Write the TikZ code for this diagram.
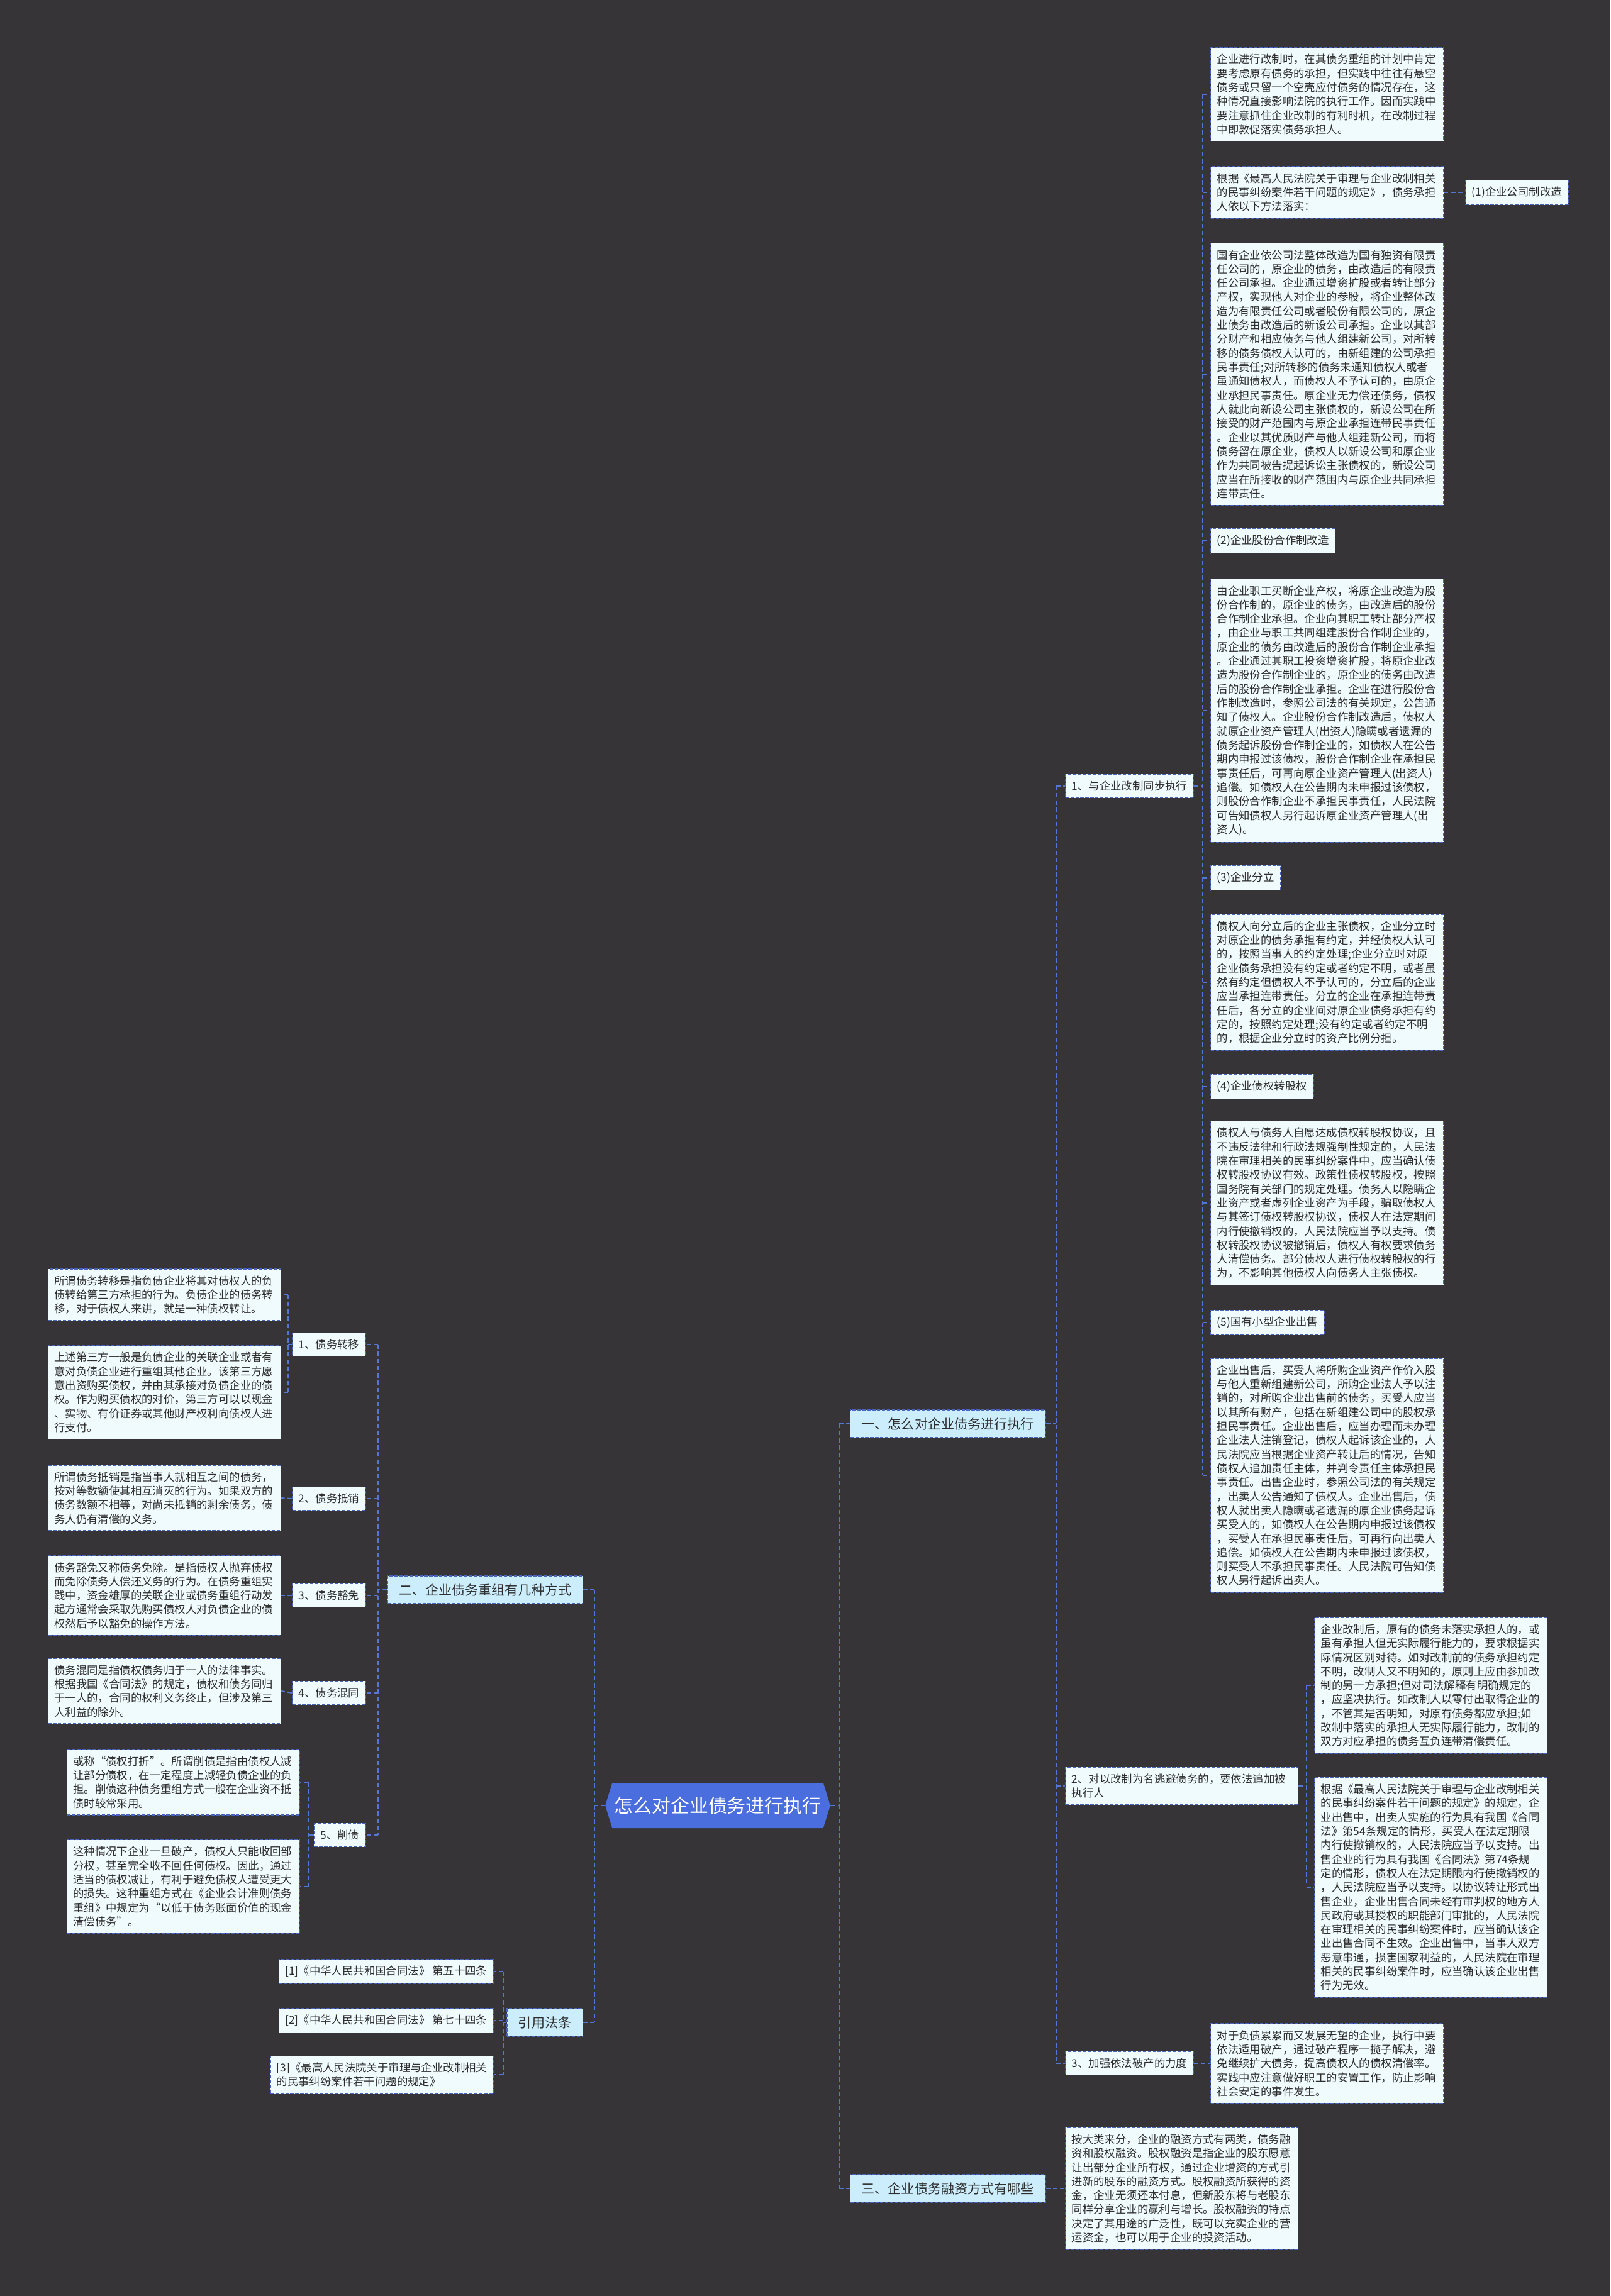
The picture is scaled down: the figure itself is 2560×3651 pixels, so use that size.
\documentclass[tikz,border=0pt]{standalone}
\usepackage{fontspec}
\setmainfont{Noto Sans CJK SC}
\usetikzlibrary{shapes.symbols}
\definecolor{bgdark}{RGB}{54,52,54}
\definecolor{boxfill}{RGB}{240,251,254}
\definecolor{boxline}{RGB}{72,100,190}
\definecolor{mainfill}{RGB}{204,238,252}
\definecolor{rootfill}{RGB}{74,110,221}
\definecolor{linkblue}{RGB}{84,118,214}
\definecolor{txtdark}{RGB}{45,45,45}
\newcommand\leafsize{\fontsize{9.9}{12.7}\selectfont}
\newcommand\branchsize{\fontsize{12}{14}\selectfont}
\newcommand\rootsize{\fontsize{17}{20}\selectfont}
\tikzset{
  leaf/.style={rectangle, draw=boxline, fill=boxfill, line width=0.8pt,
    dash pattern=on 3pt off 1.5pt, text=txtdark, font=\leafsize,
    align=left, inner xsep=0.2cm, inner ysep=6pt},
  para/.style={leaf, text width=7cm},
  branch/.style={leaf, fill=mainfill, font=\branchsize,
    inner xsep=0.36cm, inner ysep=7pt},
  root/.style={signal, signal to=west and east, signal pointer angle=146,
    fill=rootfill, text=white, font=\rootsize, inner xsep=2pt,
    minimum height=1.44cm},
  link/.style={draw=linkblue, line width=1.1pt, dash pattern=on 4pt off 2.5pt}
}

\begin{document}
\begin{tikzpicture}[x=0.02cm, y=-0.02cm]
  % Canvas
  \fill[bgdark] (0,0) rectangle (2560,3651);
  \useasboundingbox (0,0) rectangle (2560,3651);

  % Spines
  \coordinate (sR) at (1334,0);
  \coordinate (sL) at (945,0);
  \coordinate (s1) at (1679,0);
  \coordinate (sm1) at (1912,0);
  \coordinate (sm2) at (2077,0);
  \coordinate (s2) at (601,0);
  \coordinate (sc1) at (458,0);
  \coordinate (sc5) at (490,0);
  \coordinate (sct) at (800,0);

  % Root and main branches
  \node[root] (root) at (1141,2871) {怎么对企业债务进行执行};
  \node[branch, anchor=west] (one) at (1351,2264) {一、怎么对企业债务进行执行};
  \node[branch, anchor=west] (three) at (1351,3480) {三、企业债务融资方式有哪些};
  \node[branch, anchor=east] (two) at (927,2528) {二、企业债务重组有几种方式};
  \node[branch, anchor=east] (cite) at (927,3216) {引用法条};

  % Branch one
  \node[leaf, anchor=west] (m1) at (1693,1250) {1、与企业改制同步执行};
  \node[para, anchor=west] (m2) at (1693,2840) {2、对以改制为名逃避债务的，要依法追加被\\执行人};
  \node[leaf, anchor=west] (m3) at (1693,3281) {3、加强依法破产的力度};

  \node[para, anchor=west] (p1) at (1924,150) {企业进行改制时，在其债务重组的计划中肯定\\要考虑原有债务的承担，但实践中往往有悬空\\债务或只留一个空壳应付债务的情况存在，这\\种情况直接影响法院的执行工作。因而实践中\\要注意抓住企业改制的有利时机，在改制过程\\中即敦促落实债务承担人。};
  \node[para, anchor=west] (p2) at (1924,306) {根据《最高人民法院关于审理与企业改制相关\\的民事纠纷案件若干问题的规定》，债务承担\\人依以下方法落实：};
  \node[leaf, anchor=west] (t1) at (2329,306) {(1)企业公司制改造};
  \node[para, anchor=west] (p3) at (1924,595) {国有企业依公司法整体改造为国有独资有限责\\任公司的，原企业的债务，由改造后的有限责\\任公司承担。企业通过增资扩股或者转让部分\\产权，实现他人对企业的参股，将企业整体改\\造为有限责任公司或者股份有限公司的，原企\\业债务由改造后的新设公司承担。企业以其部\\分财产和相应债务与他人组建新公司，对所转\\移的债务债权人认可的，由新组建的公司承担\\民事责任;对所转移的债务未通知债权人或者\\虽通知债权人，而债权人不予认可的，由原企\\业承担民事责任。原企业无力偿还债务，债权\\人就此向新设公司主张债权的，新设公司在所\\接受的财产范围内与原企业承担连带民事责任\\。企业以其优质财产与他人组建新公司，而将\\债务留在原企业，债权人以新设公司和原企业\\作为共同被告提起诉讼主张债权的，新设公司\\应当在所接收的财产范围内与原企业共同承担\\连带责任。};
  \node[leaf, anchor=west] (t2) at (1924,860) {(2)企业股份合作制改造};
  \node[para, anchor=west] (p4) at (1924,1130) {由企业职工买断企业产权，将原企业改造为股\\份合作制的，原企业的债务，由改造后的股份\\合作制企业承担。企业向其职工转让部分产权\\，由企业与职工共同组建股份合作制企业的，\\原企业的债务由改造后的股份合作制企业承担\\。企业通过其职工投资增资扩股，将原企业改\\造为股份合作制企业的，原企业的债务由改造\\后的股份合作制企业承担。企业在进行股份合\\作制改造时，参照公司法的有关规定，公告通\\知了债权人。企业股份合作制改造后，债权人\\就原企业资产管理人(出资人)隐瞒或者遗漏的\\债务起诉股份合作制企业的，如债权人在公告\\期内申报过该债权，股份合作制企业在承担民\\事责任后，可再向原企业资产管理人(出资人)\\追偿。如债权人在公告期内未申报过该债权，\\则股份合作制企业不承担民事责任，人民法院\\可告知债权人另行起诉原企业资产管理人(出\\资人)。};
  \node[leaf, anchor=west] (t3) at (1924,1396) {(3)企业分立};
  \node[para, anchor=west] (p5) at (1924,1562) {债权人向分立后的企业主张债权，企业分立时\\对原企业的债务承担有约定，并经债权人认可\\的，按照当事人的约定处理;企业分立时对原\\企业债务承担没有约定或者约定不明，或者虽\\然有约定但债权人不予认可的，分立后的企业\\应当承担连带责任。分立的企业在承担连带责\\任后，各分立的企业间对原企业债务承担有约\\定的，按照约定处理;没有约定或者约定不明\\的，根据企业分立时的资产比例分担。};
  \node[leaf, anchor=west] (t4) at (1924,1728) {(4)企业债权转股权};
  \node[para, anchor=west] (p6) at (1924,1913) {债权人与债务人自愿达成债权转股权协议，且\\不违反法律和行政法规强制性规定的，人民法\\院在审理相关的民事纠纷案件中，应当确认债\\权转股权协议有效。政策性债权转股权，按照\\国务院有关部门的规定处理。债务人以隐瞒企\\业资产或者虚列企业资产为手段，骗取债权人\\与其签订债权转股权协议，债权人在法定期间\\内行使撤销权的，人民法院应当予以支持。债\\权转股权协议被撤销后，债权人有权要求债务\\人清偿债务。部分债权人进行债权转股权的行\\为，不影响其他债权人向债务人主张债权。};
  \node[leaf, anchor=west] (t5) at (1924,2103) {(5)国有小型企业出售};
  \node[para, anchor=west] (p7) at (1924,2346) {企业出售后，买受人将所购企业资产作价入股\\与他人重新组建新公司，所购企业法人予以注\\销的，对所购企业出售前的债务，买受人应当\\以其所有财产，包括在新组建公司中的股权承\\担民事责任。企业出售后，应当办理而未办理\\企业法人注销登记，债权人起诉该企业的，人\\民法院应当根据企业资产转让后的情况，告知\\债权人追加责任主体，并判令责任主体承担民\\事责任。出售企业时，参照公司法的有关规定\\，出卖人公告通知了债权人。企业出售后，债\\权人就出卖人隐瞒或者遗漏的原企业债务起诉\\买受人的，如债权人在公告期内申报过该债权\\，买受人在承担民事责任后，可再行向出卖人\\追偿。如债权人在公告期内未申报过该债权，\\则买受人不承担民事责任。人民法院可告知债\\权人另行起诉出卖人。};

  \node[para, anchor=west] (q1) at (2089,2680) {企业改制后，原有的债务未落实承担人的，或\\虽有承担人但无实际履行能力的，要求根据实\\际情况区别对待。如对改制前的债务承担约定\\不明，改制人又不明知的，原则上应由参加改\\制的另一方承担;但对司法解释有明确规定的\\，应坚决执行。如改制人以零付出取得企业的\\，不管其是否明知，对原有债务都应承担;如\\改制中落实的承担人无实际履行能力，改制的\\双方对应承担的债务互负连带清偿责任。};
  \node[para, anchor=west] (q2) at (2089,3001) {根据《最高人民法院关于审理与企业改制相关\\的民事纠纷案件若干问题的规定》的规定，企\\业出售中，出卖人实施的行为具有我国《合同\\法》第54条规定的情形，买受人在法定期限\\内行使撤销权的，人民法院应当予以支持。出\\售企业的行为具有我国《合同法》第74条规\\定的情形，债权人在法定期限内行使撤销权的\\，人民法院应当予以支持。以协议转让形式出\\售企业，企业出售合同未经有审判权的地方人\\民政府或其授权的职能部门审批的，人民法院\\在审理相关的民事纠纷案件时，应当确认该企\\业出售合同不生效。企业出售中，当事人双方\\恶意串通，损害国家利益的，人民法院在审理\\相关的民事纠纷案件时，应当确认该企业出售\\行为无效。};
  \node[para, anchor=west] (q3) at (1924,3281) {对于负债累累而又发展无望的企业，执行中要\\依法适用破产，通过破产程序一揽子解决，避\\免继续扩大债务，提高债权人的债权清偿率。\\实践中应注意做好职工的安置工作，防止影响\\社会安定的事件发生。};

  % Branch three
  \node[para, anchor=west] (f1) at (1693,3480) {按大类来分，企业的融资方式有两类，债务融\\资和股权融资。股权融资是指企业的股东愿意\\让出部分企业所有权，通过企业增资的方式引\\进新的股东的融资方式。股权融资所获得的资\\金，企业无须还本付息，但新股东将与老股东\\同样分享企业的赢利与增长。股权融资的特点\\决定了其用途的广泛性，既可以充实企业的营\\运资金，也可以用于企业的投资活动。};

  % Branch two
  \node[leaf, anchor=east] (c1) at (582,2138) {1、债务转移};
  \node[leaf, anchor=east] (c2) at (582,2383) {2、债务抵销};
  \node[leaf, anchor=east] (c3) at (582,2537) {3、债务豁免};
  \node[leaf, anchor=east] (c4) at (582,2692) {4、债务混同};
  \node[leaf, anchor=east] (c5) at (582,2918) {5、削债};

  \node[para, anchor=east] (d1a) at (447,2059) {所谓债务转移是指负债企业将其对债权人的负\\债转给第三方承担的行为。负债企业的债务转\\移，对于债权人来讲，就是一种债权转让。};
  \node[para, anchor=east] (d1b) at (447,2214) {上述第三方一般是负债企业的关联企业或者有\\意对负债企业进行重组其他企业。该第三方愿\\意出资购买债权，并由其承接对负债企业的债\\权。作为购买债权的对价，第三方可以以现金\\、实物、有价证券或其他财产权利向债权人进\\行支付。};
  \node[para, anchor=east] (d2) at (447,2382) {所谓债务抵销是指当事人就相互之间的债务，\\按对等数额使其相互消灭的行为。如果双方的\\债务数额不相等，对尚未抵销的剩余债务，债\\务人仍有清偿的义务。};
  \node[para, anchor=east] (d3) at (447,2537) {债务豁免又称债务免除。是指债权人抛弃债权\\而免除债务人偿还义务的行为。在债务重组实\\践中，资金雄厚的关联企业或债务重组行动发\\起方通常会采取先购买债权人对负债企业的债\\权然后予以豁免的操作方法。};
  \node[para, anchor=east] (d4) at (447,2689) {债务混同是指债权债务归于一人的法律事实。\\根据我国《合同法》的规定，债权和债务同归\\于一人的，合同的权利义务终止，但涉及第三\\人利益的除外。};
  \node[para, anchor=east] (d5a) at (477,2834) {或称“债权打折”。所谓削债是指由债权人减\\让部分债权，在一定程度上减轻负债企业的负\\担。削债这种债务重组方式一般在企业资不抵\\债时较常采用。};
  \node[para, anchor=east] (d5b) at (477,3000) {这种情况下企业一旦破产，债权人只能收回部\\分权，甚至完全收不回任何债权。因此，通过\\适当的债权减让，有利于避免债权人遭受更大\\的损失。这种重组方式在《企业会计准则债务\\重组》中规定为“以低于债务账面价值的现金\\清偿债务”。};

  % Cited laws
  \node[leaf, anchor=east] (r1) at (785,3135) {[1]《中华人民共和国合同法》 第五十四条};
  \node[leaf, anchor=east] (r2) at (785,3213) {[2]《中华人民共和国合同法》 第七十四条};
  \node[leaf, anchor=east] (r3) at (785,3299) {[3]《最高人民法院关于审理与企业改制相关\\的民事纠纷案件若干问题的规定》};

  % Connectors, right side
  \draw[link] (root.east) -- (root.east -| sR);
  \draw[link] (sR |- one.west) -- (sR |- three.west);
  \foreach \n in {one,three} \draw[link] (sR |- \n.west) -- (\n.west);

  \draw[link] (one.east) -- (one.east -| s1);
  \draw[link] (s1 |- m1.west) -- (s1 |- m3.west);
  \foreach \n in {m1,m2,m3} \draw[link] (s1 |- \n.west) -- (\n.west);

  \draw[link] (m1.east) -- (m1.east -| sm1);
  \draw[link] (sm1 |- p1.west) -- (sm1 |- p7.west);
  \foreach \n in {p1,p2,p3,t2,p4,t3,p5,t4,p6,t5,p7}
    \draw[link] (sm1 |- \n.west) -- (\n.west);
  \draw[link] (p2.east) -- (t1.west);

  \draw[link] (m2.east) -- (m2.east -| sm2);
  \draw[link] (sm2 |- q1.west) -- (sm2 |- q2.west);
  \foreach \n in {q1,q2} \draw[link] (sm2 |- \n.west) -- (\n.west);
  \draw[link] (m3.east) -- (q3.west);
  \draw[link] (three.east) -- (f1.west);

  % Connectors, left side
  \draw[link] (root.west) -- (root.west -| sL);
  \draw[link] (sL |- two.east) -- (sL |- cite.east);
  \foreach \n in {two,cite} \draw[link] (sL |- \n.east) -- (\n.east);

  \draw[link] (two.west) -- (two.west -| s2);
  \draw[link] (s2 |- c1.east) -- (s2 |- c5.east);
  \foreach \n in {c1,c2,c3,c4,c5} \draw[link] (s2 |- \n.east) -- (\n.east);

  \draw[link] (c1.west) -- (c1.west -| sc1);
  \draw[link] (sc1 |- d1a.east) -- (sc1 |- d1b.east);
  \foreach \n in {d1a,d1b} \draw[link] (sc1 |- \n.east) -- (\n.east);
  \draw[link] (c2.west) -- (d2.east);
  \draw[link] (c3.west) -- (d3.east);
  \draw[link] (c4.west) -- (d4.east);

  \draw[link] (c5.west) -- (c5.west -| sc5);
  \draw[link] (sc5 |- d5a.east) -- (sc5 |- d5b.east);
  \foreach \n in {d5a,d5b} \draw[link] (sc5 |- \n.east) -- (\n.east);

  \draw[link] (cite.west) -- (cite.west -| sct);
  \draw[link] (sct |- r1.east) -- (sct |- r3.east);
  \foreach \n in {r1,r2,r3} \draw[link] (sct |- \n.east) -- (\n.east);
\end{tikzpicture}
\end{document}
